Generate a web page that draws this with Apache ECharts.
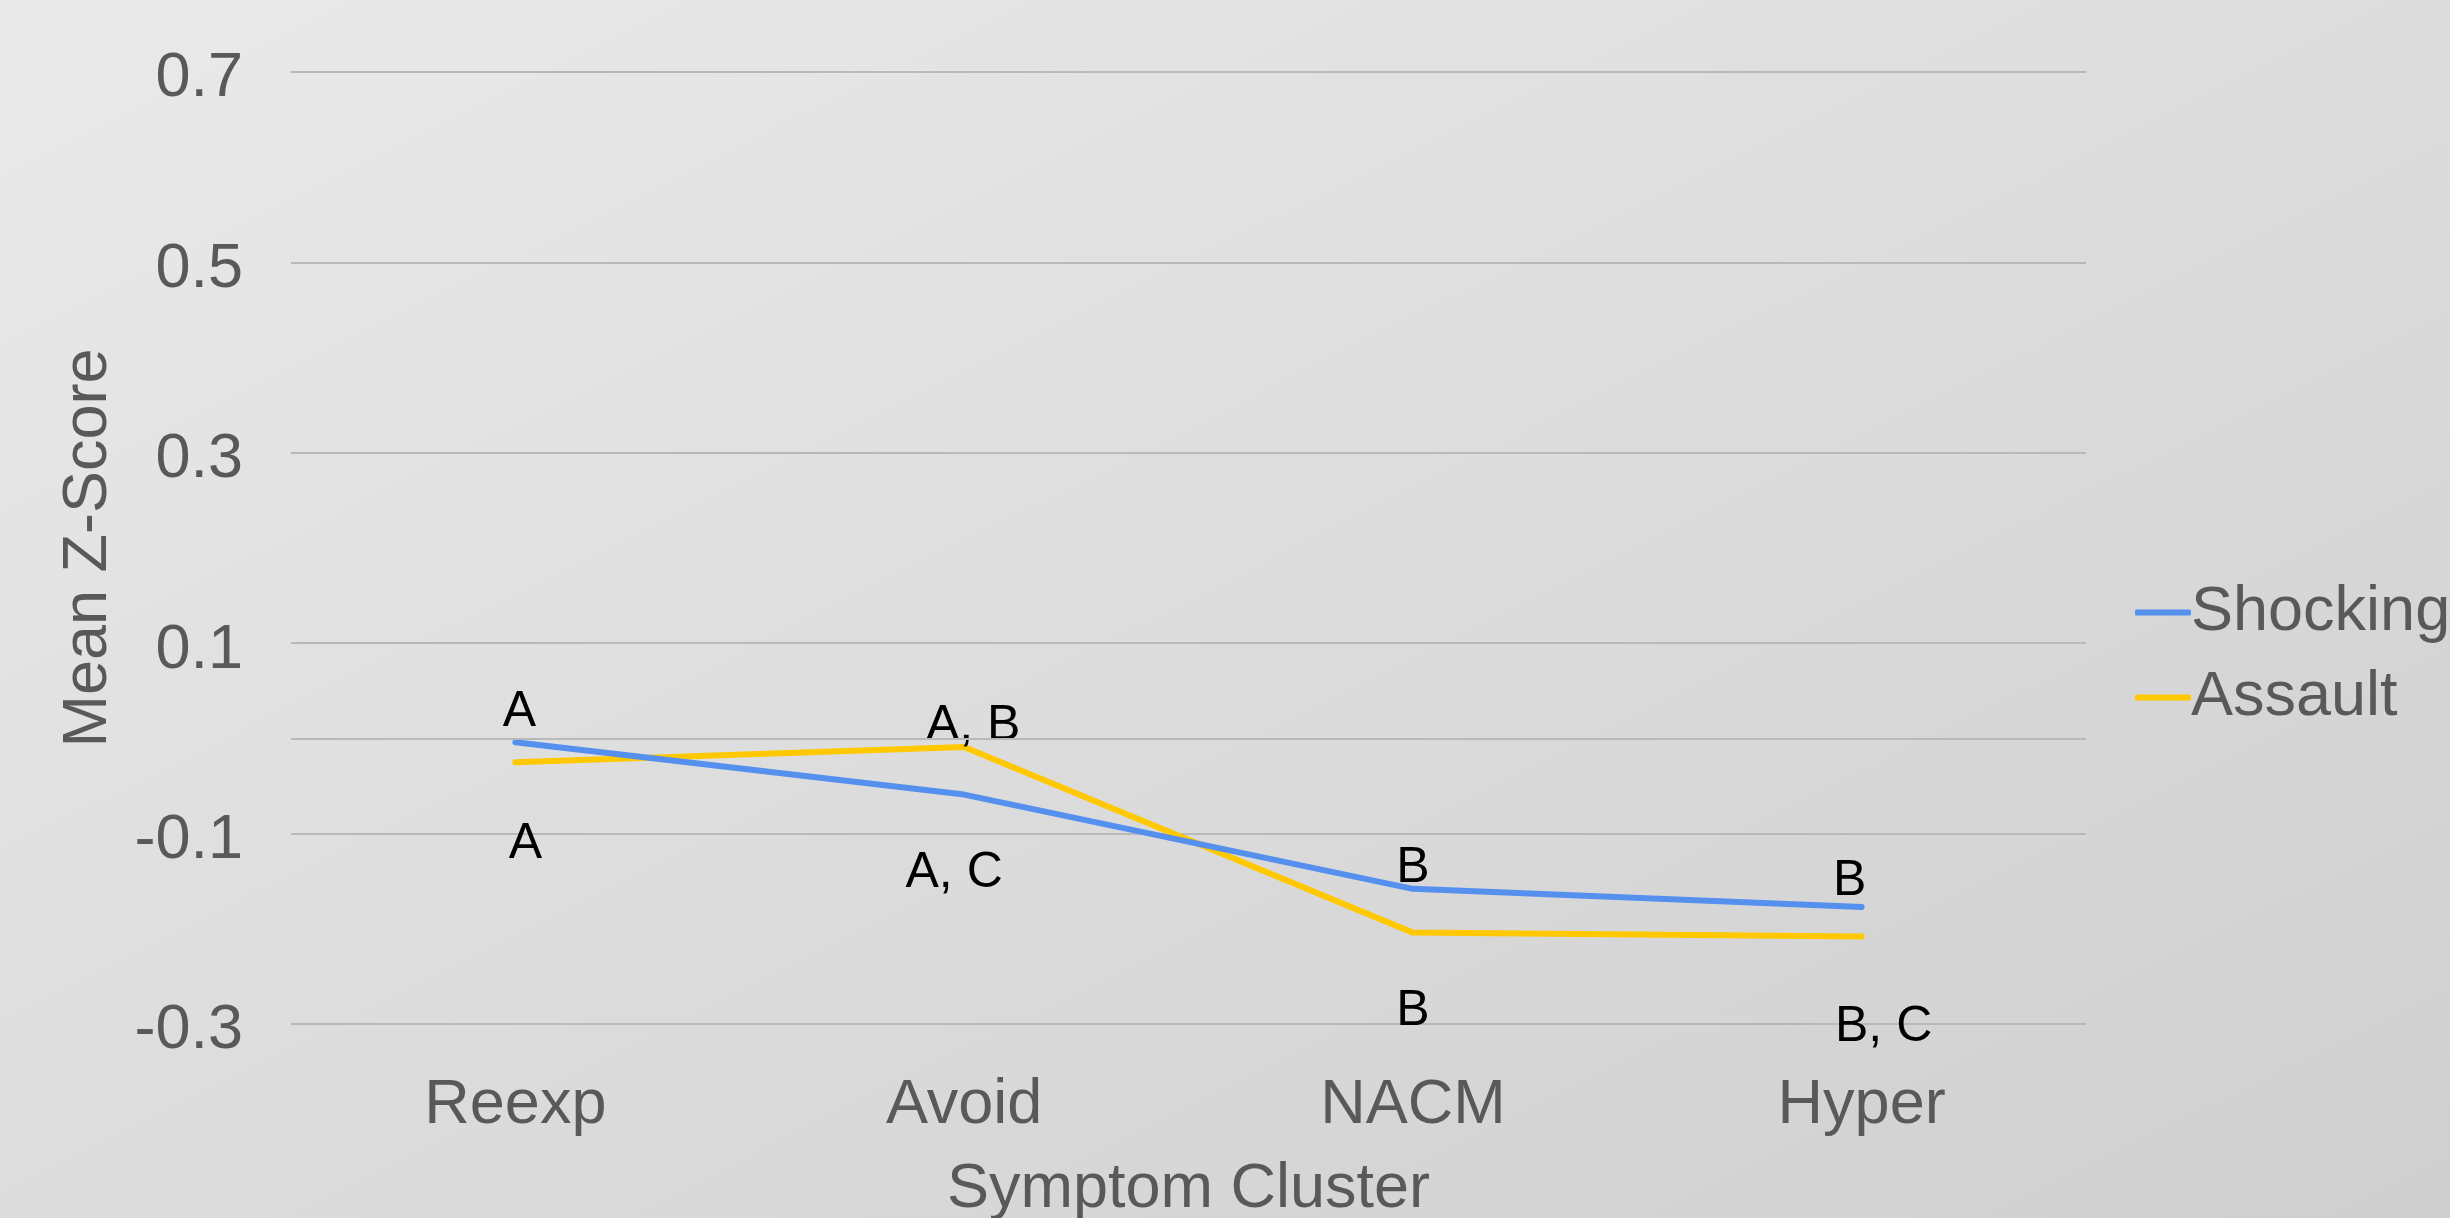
<!DOCTYPE html>
<html>
<head>
<meta charset="utf-8">
<title>Mean Z-Score by Symptom Cluster</title>
<script src="https://cdn.jsdelivr.net/npm/echarts@6.0.0/dist/echarts.min.js"></script>
<style>
	html, body {
		margin: 0;
		padding: 0;
	}
	#chart {
		width: 2450px;
		height: 1218px;
		background: linear-gradient(to bottom right, #eaeaea, #cfcfcf);
	}
</style>
</head>
<body>
<div id="chart"></div>
<script>
	// 数据
	var categories = ['Reexp', 'Avoid', 'NACM', 'Hyper'];
	var shocking = [-0.004, -0.059, -0.158, -0.177];
	var assault = [-0.025, -0.009, -0.204, -0.208];
	var topLetters = ['A', 'A, B', 'B', 'B'];
	var bottomLetters = ['A', 'A, C', 'B', 'B, C'];
	var yTicks = [-0.3, -0.1, 0.1, 0.3, 0.5, 0.7];

	var grey = '#595959';
	var font = '"Liberation Sans", Arial, Helvetica, sans-serif';

	// 字母标注的位置（像素偏移）
	var topOffsets = [[4, -30], [9, -68], [0, -21], [-12, -26]];
	var bottomOffsets = [[10, 82], [-10, 126], [0, 79], [22, 91]];

	function withLetters(values, letters, offsets) {
		return values.map(function(v, i) {
			return {
				value: v,
				label: {
					show: true,
					formatter: letters[i],
					position: 'inside',
					offset: offsets[i],
					color: '#000',
					fontSize: 50,
					fontFamily: font
				}
			};
		});
	}

	var chart = echarts.init(document.getElementById('chart'), null, {renderer: 'canvas'});

	var option = {
		backgroundColor: 'transparent',
		animation: false,
		textStyle: {fontFamily: font},
		legend: {
			orient: 'vertical',
			left: 2130,
			top: 576,
			itemWidth: 56,
			itemHeight: 6,
			itemGap: 22,
			icon: 'roundRect',
			textStyle: {
				color: grey,
				fontSize: 63,
				lineHeight: 62,
				padding: [0, 0, 0, -5],
				fontFamily: font
			},
			data: ['Shocking', 'Assault']
		},
		grid: {
			left: 291,
			right: 364,
			top: 72,
			bottom: 194,
			containLabel: false,
			outerBoundsMode: 'none'
		},
		xAxis: {
			type: 'category',
			boundaryGap: true,
			data: categories,
			name: 'Symptom Cluster',
			nameLocation: 'middle',
			nameGap: 134,
			nameTextStyle: {color: grey, fontSize: 63, fontFamily: font},
			axisLine: {show: false, onZero: false},
			axisTick: {show: false},
			axisLabel: {color: grey, fontSize: 63, margin: 50, fontFamily: font}
		},
		yAxis: {
			type: 'value',
			min: yTicks[0],
			max: yTicks[yTicks.length - 1],
			interval: 0.2,
			name: 'Mean Z-Score',
			nameLocation: 'middle',
			nameGap: 171,
			nameTextStyle: {color: grey, fontSize: 63, fontFamily: font},
			axisLine: {show: false},
			axisTick: {show: false},
			axisLabel: {
				color: grey,
				fontSize: 63,
				margin: 48,
				verticalAlign: 'top',
				lineHeight: 14,
				fontFamily: font,
				formatter: function(v) {
					return v.toFixed(1);
				}
			},
			splitLine: {
				show: true,
				lineStyle: {color: '#b9b9b9', width: 2}
			}
		},
		series: [{
			name: 'Shocking',
			type: 'line',
			color: '#5590ee',
			symbol: 'circle',
			symbolSize: 5,
			lineStyle: {width: 6, cap: 'round', join: 'round'},
			data: withLetters(shocking, topLetters, topOffsets),
			markLine: {
				silent: true,
				symbol: ['none', 'none'],
				label: {show: false},
				lineStyle: {color: '#b9b9b9', width: 2, type: 'solid'},
				data: [{yAxis: 0}]
			},
			z: 3
		}, {
			name: 'Assault',
			type: 'line',
			color: '#ffc800',
			symbol: 'circle',
			symbolSize: 5,
			lineStyle: {width: 6, cap: 'round', join: 'round'},
			data: withLetters(assault, bottomLetters, bottomOffsets),
			z: 2
		}]
	};

	chart.setOption(option);
</script>
</body>
</html>
